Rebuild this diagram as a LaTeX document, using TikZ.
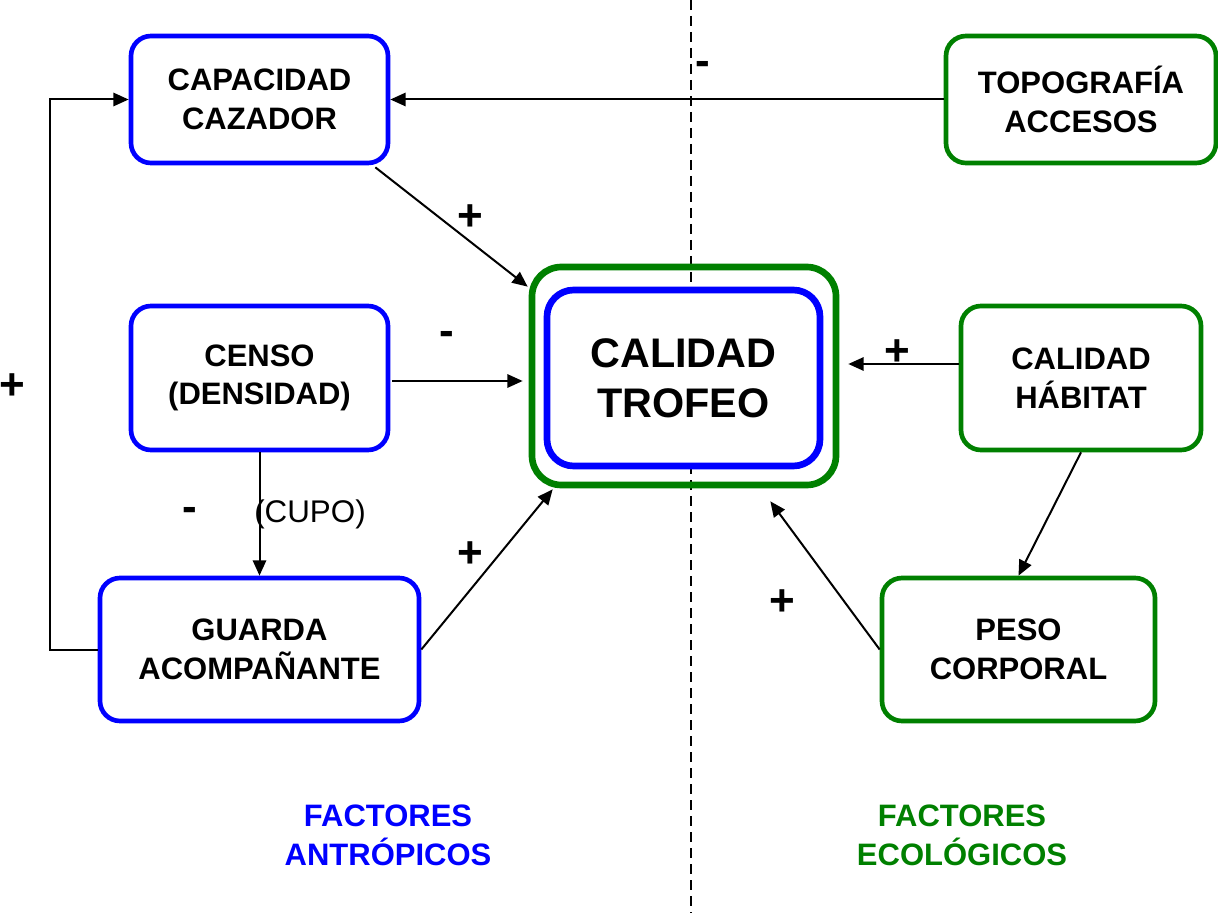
\documentclass[tikz,border=0pt]{standalone}
\usepackage{fontspec}
\setmainfont{Liberation Sans}
\usetikzlibrary{arrows.meta,calc}
\definecolor{myblue}{RGB}{0,0,255}
\definecolor{mygreen}{RGB}{0,128,0}
\begin{document}
\begin{tikzpicture}[x=0.75pt,y=-0.75pt,
  box/.style={draw, line width=3.5pt, rounded corners=15pt, align=center, inner sep=0pt,
    font=\bfseries\fontsize{23.25}{29}\selectfont},
  bbox/.style={box, draw=myblue},
  gbox/.style={box, draw=mygreen},
  arr/.style={line width=1.5pt, -{Triangle[length=11.5pt,width=10pt]}},
  sign/.style={font=\bfseries\fontsize{33}{33}\selectfont, inner sep=0pt},
  lbl/.style={font=\fontsize{23.5}{28}\selectfont, inner sep=0pt},
  foot/.style={font=\bfseries\fontsize{23.25}{29}\selectfont, align=center, inner sep=0pt},
  divider/.style={line width=1.5pt, dash pattern=on 7.5pt off 4.5pt}
]
\useasboundingbox (0,0) rectangle (1218,913);
\coordinate (dtop) at (691,0);
\coordinate (dbot) at (691,913);
\draw[divider] (dtop) -- (dbot);

% nodes
\node[bbox, minimum width=192.75pt, minimum height=95.25pt] (cap) at (259.5,99.5) {CAPACIDAD\\CAZADOR};
\node[gbox, minimum width=202.5pt, minimum height=95.25pt] (topo) at (1081,99.5) {TOPOGRAFÍA\\ACCESOS};
\node[bbox, minimum width=192.75pt, minimum height=108pt] (censo) at (259.5,378) {CENSO\\(DENSIDAD)};
\node[bbox, minimum width=239.25pt, minimum height=107.25pt] (guarda) at (259.5,649.5) {GUARDA\\ACOMPAÑANTE};
\node[gbox, minimum width=180pt, minimum height=108pt] (hab) at (1081,378) {CALIDAD\\HÁBITAT};
\node[gbox, minimum width=204.75pt, minimum height=107.25pt] (peso) at (1018.5,649.5) {PESO\\CORPORAL};
\node[draw=mygreen, line width=5pt, rounded corners=22pt, minimum width=228pt, minimum height=163.5pt] (outer) at (684,376) {};
\node[draw=myblue, fill=white, line width=5pt, rounded corners=20pt, minimum width=204.75pt, minimum height=132pt,
  align=center, inner sep=0pt, font=\bfseries\fontsize{31}{37.5}\selectfont] (cal) at (683.5,378) {CALIDAD\\TROFEO};

% connectors
\draw[arr] (topo.west) -- (cap.east);
\draw[arr] ($(cap.south east)+(-15,2)$) -- ($(outer.north west)+(-1,23)$);
\draw[arr] ($(censo.east)+(2,3)$) -- ($(outer.west)+(-6,5)$);
\draw[arr] (censo.south) -- (guarda.north);
\draw[arr] (guarda.east) -- ($(outer.south west)+(24,1)$);
\draw[arr] (guarda.west) -- ++(-48,0) |- (cap.west);
\draw[arr] ($(hab.west)+(0,-14)$) -- ($(outer.east)+(9,-12)$);
\draw[arr] (hab.south) -- (peso.north);
\draw[arr] (peso.west) -- ($(outer.south east)+(-69,13)$);

% signs and labels
\node[sign] (s1) at (703,68) {-};
\node[sign] (s2) at (470,218) {+};
\node[sign] (s3) at (447,338) {-};
\node[sign] (s4) at (897,353) {+};
\node[sign] (s5) at (12,387) {+};
\node[sign] (s6) at (190,514) {-};
\node[sign] (s7) at (470,555) {+};
\node[sign] (s8) at (782,603) {+};
\node[lbl] (cupo) at (310,514) {(CUPO)};
\node[foot, text=myblue] (fa) at (388,835) {FACTORES\\ANTRÓPICOS};
\node[foot, text=mygreen] (fe) at (962,835) {FACTORES\\ECOLÓGICOS};
\end{tikzpicture}
\end{document}
